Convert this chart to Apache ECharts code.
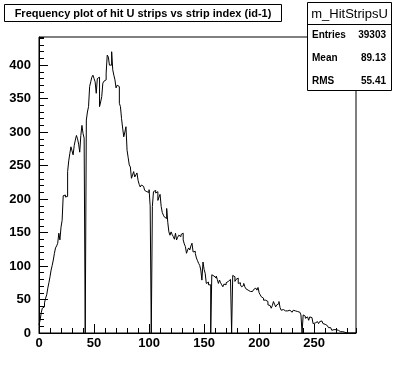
<!DOCTYPE html>
<html>
<head>
<meta charset="utf-8">
<script src="https://cdn.jsdelivr.net/npm/echarts@6/dist/echarts.min.js"></script>
<style>
html,body{margin:0;padding:0;background:#fff;}
#chart{width:396px;height:372px;}
</style>
</head>
<body>
<div id="chart"></div>
<script>
// ---- data ----
const titleText = "Frequency plot of hit U strips vs strip index (id-1)";
const statsName = "m_HitStripsU";
const statsLabels = ["Entries", "Mean", "RMS"];
const statsValues = ["39303", "89.13", "55.41"];

const xMin = 0, xMax = 288;
const yMin = 0, yMax = 442;
const xTicks = [0, 50, 100, 150, 200, 250];
const yTicks = [0, 50, 100, 150, 200, 250, 300, 350, 400];

// bin contents for strip index 0..287 (one bin per unit)
const counts0 = [12,19,30,37,39,45,52,57,67,75,84,94,101,109,119,127,130,134,149,139,
  158,168,205,206,203,204,241,257,268,278,272,266,280,288,295,290,282,270,295,310,
  298,291,0,318,330,338,368,375,382,385,380,375,358,380,382,338,345,353,373,376];
const counts1 = [378,388,415,412,400,400,420,393,385,378,366,370,368,343,338,320,306,293,300,308,
  273,262,251,248,231,236,241,233,236,239,228,222,218,221,219,221,213,211,209,210,
  214,190,0,189,211,213,209,211,198,203,207,189,180,176,173,171,186,165,151,146];
const counts2 = [151,147,144,140,149,139,143,146,144,147,149,139,133,129,119,124,127,124,130,134,
  121,122,119,112,108,104,101,94,79,106,95,89,74,76,72,72,0,87,85,83,
  82,85,80,74,79,75,72,69,73,72,75,77,79,80,82,0,86,84,77,80];
const counts3 = [82,74,75,72,69,71,74,69,66,64,64,62,63,62,62,65,67,66,64,68,
  60,57,54,52,49,49,48,47,42,41,39,37,41,47,43,39,42,44,47,38,
  34,35,34,33,32,33,35,34,32,31,32,34,33,32,32,30,31,32,27,0];
const counts4 = [27,25,22,24,23,19,24,23,22,14,15,14,17,16,14,17,18,19,14,13,
  12,11,10,8,8,7,4,5,4,5,4,4,3,2,2,2,1,1,0,0,
  0,0,0,0,0,0,0,0];
const counts = counts0.concat(counts1, counts2, counts3, counts4);

// ---- build histogram outline points (lower bin edge, content) ----
const histData = counts.map((v, i) => [xMin + i, v]);
histData.push([xMin + counts.length, counts[counts.length - 1]]);

const FONT = "'Liberation Sans', Arial, Helvetica, sans-serif";

const chart = echarts.init(document.getElementById('chart'), null, {renderer: 'canvas'});

const gridBox = {left: 39, right: 40, top: 37, bottom: 39};

chart.setOption({
  animation: false,
  backgroundColor: '#fff',
  grid: Object.assign({show: true, borderColor: '#000', borderWidth: 1, backgroundColor: '#fff', containLabel: false}, gridBox),
  xAxis: [
    {
      type: 'value', min: xMin, max: xMax, interval: 50,
      axisLine: {show: true, onZero: false, lineStyle: {color: '#000', width: 1}},
      axisTick: {show: true, inside: true, length: 9, lineStyle: {color: '#000'}},
      minorTick: {show: false},
      splitLine: {show: false},
      axisLabel: {
        show: true, margin: 4, color: '#000', fontFamily: FONT, fontWeight: 'bold', fontSize: 13,
        formatter: v => xTicks.indexOf(v) >= 0 ? String(v) : '',
        showMaxLabel: false
      }
    },
    {
      type: 'value', min: xMin, max: xMax, interval: 10, position: 'bottom',
      axisLine: {show: false, onZero: false},
      axisTick: {show: true, inside: true, length: 5, lineStyle: {color: '#000'}},
      splitLine: {show: false},
      axisLabel: {show: false}
    }
  ],
  yAxis: [
    {
      type: 'value', min: yMin, max: yMax, interval: 50,
      axisLine: {show: true, onZero: false, lineStyle: {color: '#000', width: 1}},
      axisTick: {show: true, inside: true, length: 9, lineStyle: {color: '#000'}},
      splitLine: {show: false},
      axisLabel: {
        show: true, margin: 8, color: '#000', fontFamily: FONT, fontWeight: 'bold', fontSize: 13,
        formatter: v => yTicks.indexOf(v) >= 0 ? String(v) : '',
        showMaxLabel: false
      }
    },
    {
      type: 'value', min: yMin, max: yMax, interval: 10, position: 'left',
      axisLine: {show: false, onZero: false},
      axisTick: {show: true, inside: true, length: 5, lineStyle: {color: '#000'}},
      splitLine: {show: false},
      axisLabel: {show: false}
    }
  ],
  series: [{
    type: 'line',
    xAxisIndex: 0, yAxisIndex: 0,
    data: histData,
    step: 'end',
    showSymbol: false,
    symbol: 'none',
    lineStyle: {color: '#000', width: 1},
    silent: true,
    clip: true
  }],
  graphic: [
    // title box
    {type: 'rect', shape: {x: 4.5, y: 4.5, width: 277, height: 17}, style: {fill: '#fff', stroke: '#000', lineWidth: 1}, z: 100},
    {type: 'text', x: 143, y: 13.5, style: {text: titleText, fill: '#000', font: "bold 11px " + FONT, textAlign: 'center', textVerticalAlign: 'middle'}, z: 101},
    // stats box
    {type: 'rect', shape: {x: 307.5, y: 2.5, width: 84, height: 88}, style: {fill: '#fff', stroke: '#000', lineWidth: 1}, z: 100},
    {type: 'line', shape: {x1: 307.5, y1: 24.5, x2: 391.5, y2: 24.5}, style: {stroke: '#000', lineWidth: 1}, z: 101},
    {type: 'text', x: 349.5, y: 14, style: {text: statsName, fill: '#000', font: "13px " + FONT, textAlign: 'center', textVerticalAlign: 'middle'}, z: 101},
    {type: 'text', x: 312, y: 35, style: {text: statsLabels[0], fill: '#000', font: "bold 10px " + FONT, textAlign: 'left', textVerticalAlign: 'middle'}, z: 101},
    {type: 'text', x: 386, y: 35, style: {text: statsValues[0], fill: '#000', font: "bold 10px " + FONT, textAlign: 'right', textVerticalAlign: 'middle'}, z: 101},
    {type: 'text', x: 312, y: 58, style: {text: statsLabels[1], fill: '#000', font: "bold 10px " + FONT, textAlign: 'left', textVerticalAlign: 'middle'}, z: 101},
    {type: 'text', x: 386, y: 58, style: {text: statsValues[1], fill: '#000', font: "bold 10px " + FONT, textAlign: 'right', textVerticalAlign: 'middle'}, z: 101},
    {type: 'text', x: 312, y: 81, style: {text: statsLabels[2], fill: '#000', font: "bold 10px " + FONT, textAlign: 'left', textVerticalAlign: 'middle'}, z: 101},
    {type: 'text', x: 386, y: 81, style: {text: statsValues[2], fill: '#000', font: "bold 10px " + FONT, textAlign: 'right', textVerticalAlign: 'middle'}, z: 101}
  ]
});
</script>
</body>
</html>
